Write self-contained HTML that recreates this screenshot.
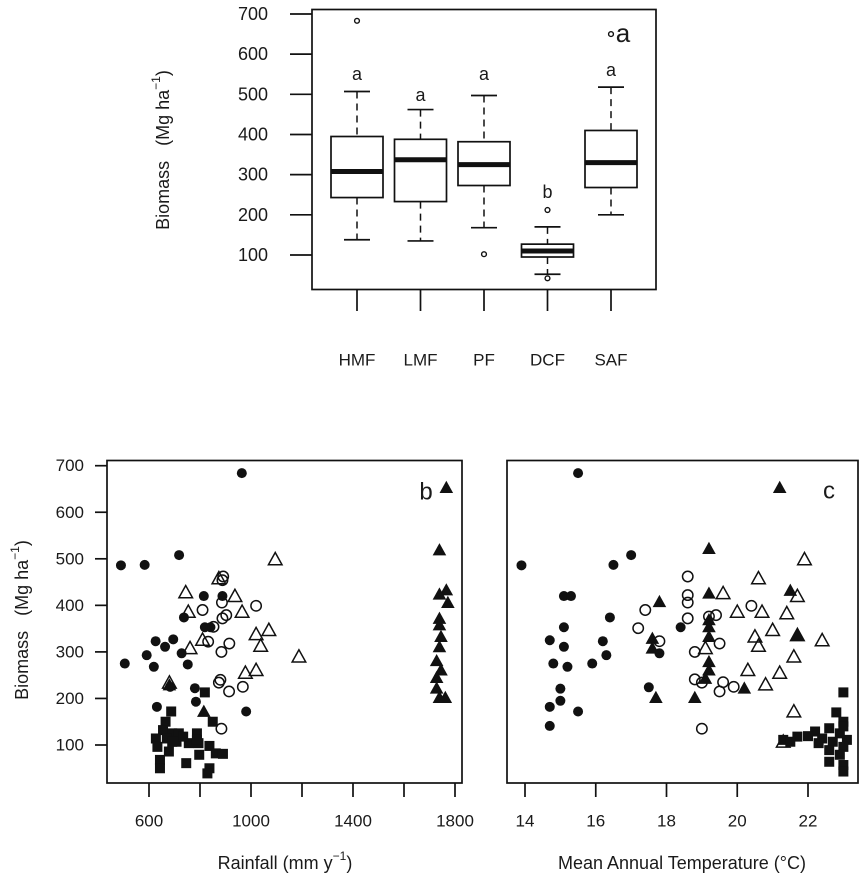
<!DOCTYPE html>
<html><head><meta charset="utf-8"><style>
html,body{margin:0;padding:0;background:#fff;}
svg{display:block;font-family:"Liberation Sans",Arial,sans-serif;}
</style></head><body>
<svg id="chart" width="866" height="883" viewBox="0 0 866 883" xmlns="http://www.w3.org/2000/svg"></svg>
<script>
// ---- Panel a (boxplot) data ----
const boxCats = ["HMF","LMF","PF","DCF","SAF"];
const boxLo  = [138,135,168,52,200];
const boxQ1  = [243,233,273,95,268];
const boxMed = [308,337,325,110,330];
const boxQ3  = [395,388,382,127,410];
const boxHi  = [507,462,497,170,518];
const boxOutCat = [0,2,3,3,4];
const boxOutVal = [683,102,212,42,650];
const boxLetters = ["a","a","a","b","a"];
const boxLetterVal = [550,498,550,257,560];
const boxYTicks = [100,200,300,400,500,600,700];

// ---- Panels b & c scatter data ----
const rainTicks = [600,1000,1400,1800];
const rainMinor = [800,1200,1600];
const tempTicks = [14,16,18,20,22];
const bioTicks = [100,200,300,400,500,600,700];

// HMF: filled circles
const hmfRain = [490,583,718,964,737,815,888,819,841,626,695,663,728,591,505,752,619,683,780,784,631,981];
const hmfRainB = [486,487,508,684,374,420,420,353,353,323,327,311,297,293,275,273,268,225,222,193,182,172];
const hmfTemp = [13.9,15.5,17.0,16.5,15.1,15.3,16.4,18.4,15.1,14.7,16.2,15.1,16.3,14.8,15.2,15.9,17.8,15.0,17.5,15.0,14.7,15.5,14.7];
const hmfTempB = [486,684,508,487,420,420,374,353,353,325,323,311,293,275,268,275,297,221,224,195,182,172,141];
// PF: open circles
const pfRain = [891,888,886,1020,810,888,903,853,832,915,884,880,874,968,914,884];
const pfRainB = [462,454,406,399,390,372,379,354,322,318,300,240,234,225,215,135];
const pfTemp = [18.6,18.6,18.6,20.4,17.4,18.6,19.2,19.4,17.2,17.8,19.5,18.8,18.8,19.0,19.6,19.9,19.5,19.0];
const pfTempB = [462,422,406,399,390,372,376,379,351,323,318,300,241,234,235,225,215,135];
// LMF: open triangles
const lmfRain = [1095,874,744,937,754,965,810,1020,1070,1038,761,1188,978,1020,680];
const lmfRainB = [499,458,428,420,386,386,326,338,347,313,308,290,255,261,234];
const lmfTemp = [21.9,20.6,19.6,21.7,20.0,20.7,21.4,21.0,20.5,21.7,22.4,20.6,19.1,21.6,20.3,21.2,20.8,21.6,21.3];
const lmfTempB = [499,458,426,420,386,386,383,347,333,336,325,313,308,290,261,255,230,172,107];
// SAF: filled triangles
const safRain = [1766,1739,1766,1739,1772,1739,1739,1745,1739,1728,1745,1728,1728,1739,1762,680,815];
const safRainB = [653,519,433,424,406,372,358,333,311,281,261,245,222,202,202,229,172];
const safTemp = [21.2,19.2,21.5,19.2,17.8,19.2,19.2,17.6,19.2,17.6,21.7,19.2,19.2,19.1,20.2,17.7,18.8];
const safTempB = [653,522,432,426,408,369,354,329,333,308,336,279,261,243,222,202,202];
// DCF: filled squares
const dcfRain = [819,687,850,665,655,691,717,788,627,670,708,756,794,633,837,678,862,890,797,643,746,643,837,829,691,734,788];
const dcfRainB = [213,172,150,150,132,125,125,125,114,114,107,104,104,96,98,86,82,81,79,68,61,50,50,39,107,118,111];
const dcfTemp = [23.0,22.8,23.0,22.6,22.2,21.3,21.7,22.0,22.4,22.7,23.1,23.0,22.6,22.9,22.6,23.0,23.0,22.9,21.5,22.3,23.0];
const dcfTempB = [213,170,150,136,129,111,118,119,114,107,111,96,89,79,64,57,43,125,107,104,140];

const NS="http://www.w3.org/2000/svg";
const svg=document.getElementById('chart');
function mk(tag,attrs,parent){const e=document.createElementNS(NS,tag);for(const k in attrs)e.setAttribute(k,attrs[k]);(parent||svg).appendChild(e);return e;}
function txt(s,x,y,size,anchor,parent,extra){const t=mk('text',Object.assign({x:x,y:y,'font-size':size,'text-anchor':anchor||'middle','dominant-baseline':'central',fill:'#1a1a1a'},extra||{}),parent);t.textContent=s;return t;}

// ===== Panel a =====
const ga=mk('g',{});


const aY=v=>255-(v-100)*0.4017;
const aX=i=>357+i*63.5;
const pa=mk('rect',{x:312,y:9.5,width:344,height:280,fill:'none',stroke:'#111','stroke-width':1.7},ga);


boxYTicks.forEach(v=>{
  const l=mk('line',{x1:290,x2:312,y1:aY(v),y2:aY(v),stroke:'#111','stroke-width':1.7},ga);
  
  
  const t=txt(String(v),268,aY(v),18,'end',ga);
  
  
});
const ta=txt('',163,150,18,'middle',ga,{transform:'rotate(-90 163 150)'});
ta.innerHTML='Biomass\u00a0\u00a0\u00a0(Mg ha<tspan font-size="12" dy="-7">\u22121</tspan><tspan dy="7">)</tspan>';


boxCats.forEach((c,i)=>{
  const x=aX(i);
  const g=mk('g',{},ga);
  
  
  mk('line',{x1:x,x2:x,y1:289,y2:311,stroke:'#111','stroke-width':1.7},g);
  mk('line',{x1:x,x2:x,y1:aY(boxHi[i]),y2:aY(boxQ3[i]),stroke:'#111','stroke-width':1.5,'stroke-dasharray':'7,5'},g);
  mk('line',{x1:x,x2:x,y1:aY(boxQ1[i]),y2:aY(boxLo[i]),stroke:'#111','stroke-width':1.5,'stroke-dasharray':'7,5'},g);
  mk('line',{x1:x-13,x2:x+13,y1:aY(boxHi[i]),y2:aY(boxHi[i]),stroke:'#111','stroke-width':1.7},g);
  mk('line',{x1:x-13,x2:x+13,y1:aY(boxLo[i]),y2:aY(boxLo[i]),stroke:'#111','stroke-width':1.7},g);
  mk('rect',{x:x-26,y:aY(boxQ3[i]),width:52,height:aY(boxQ1[i])-aY(boxQ3[i]),fill:'#fff',stroke:'#111','stroke-width':1.7},g);
  mk('line',{x1:x-26,x2:x+26,y1:aY(boxMed[i]),y2:aY(boxMed[i]),stroke:'#111','stroke-width':5},g);
  const lt=txt(boxLetters[i],x,aY(boxLetterVal[i]),18,'middle',g);
  
  
  const cl=txt(c,x,360,17,'middle',ga);
  
  
});
boxOutCat.forEach((ci,k)=>{
  const o=mk('circle',{cx:aX(ci),cy:aY(boxOutVal[k]),r:2.4,fill:'none',stroke:'#111','stroke-width':1.4},ga);
  
  
});
const bigA=txt('a',623,33,26,'middle',ga);



// ===== Panels b, c =====
const bY=v=>745-(v-100)*0.4655;
const bTop=460.5, bBot=783;
const rX=v=>149+(v-600)*(306/1200);
const tX=v=>525+(v-14)*(283/8);

function marker(g,type,x,y){
  let e;
  if(type==='fc') e=mk('circle',{cx:x,cy:y,r:5,fill:'#111'},g);
  else if(type==='oc') e=mk('circle',{cx:x,cy:y,r:5.2,fill:'none',stroke:'#111','stroke-width':1.5},g);
  else if(type==='ft'||type==='ot'){
    const s=6.8;
    const pts=`${x},${y-s} ${x-s*1.0},${y+s*0.8} ${x+s*1.0},${y+s*0.8}`;
    e=mk('polygon',type==='ft'?{points:pts,fill:'#111'}:{points:pts,fill:'none',stroke:'#111','stroke-width':1.5},g);
  } else e=mk('rect',{x:x-5,y:y-5,width:10,height:10,fill:'#111'},g);
  return e;
}
function drawSeries(g,xs,ys,xf,type,name){
  const sg=mk('g',{},g);
  
  
  xs.forEach((v,i)=>{
    const m=marker(sg,type,xf(v),bY(ys[i]));
    
    
  });
}

// Panel b
const gb=mk('g',{});


const fb=mk('rect',{x:107,y:bTop,width:355,height:bBot-bTop,fill:'none',stroke:'#111','stroke-width':1.7},gb);


bioTicks.forEach(v=>{
  const l=mk('line',{x1:95,x2:107,y1:bY(v),y2:bY(v),stroke:'#111','stroke-width':1.7},gb);
  
  
  const t=txt(String(v),84,bY(v),17,'end',gb);
  
  
});
rainTicks.concat(rainMinor).forEach(v=>{
  const l=mk('line',{x1:rX(v),x2:rX(v),y1:bBot,y2:797,stroke:'#111','stroke-width':1.7},gb);
  
  
});
rainTicks.forEach(v=>{
  const t=txt(String(v),rX(v),821,17,'middle',gb);
  
  
});
const yb=txt('',22,620,18,'middle',gb,{transform:'rotate(-90 22 620)'});
yb.innerHTML='Biomass\u00a0\u00a0\u00a0(Mg ha<tspan font-size="12" dy="-7">\u22121</tspan><tspan dy="7">)</tspan>';


const xb=txt('',285,863,18,'middle',gb);
xb.innerHTML='Rainfall (mm y<tspan font-size="12" dy="-7">\u22121</tspan><tspan dy="7">)</tspan>';


const lb=txt('b',426,492,24,'middle',gb);


drawSeries(gb,hmfRain,hmfRainB,rX,'fc','series-hmf-b');
drawSeries(gb,pfRain,pfRainB,rX,'oc','series-pf-b');
drawSeries(gb,lmfRain,lmfRainB,rX,'ot','series-lmf-b');
drawSeries(gb,safRain,safRainB,rX,'ft','series-saf-b');
drawSeries(gb,dcfRain,dcfRainB,rX,'sq','series-dcf-b');

// Panel c
const gc=mk('g',{});


const fc=mk('rect',{x:507,y:bTop,width:351,height:bBot-bTop,fill:'none',stroke:'#111','stroke-width':1.7},gc);


tempTicks.forEach(v=>{
  const l=mk('line',{x1:tX(v),x2:tX(v),y1:bBot,y2:797,stroke:'#111','stroke-width':1.7},gc);
  
  
  const t=txt(String(v),tX(v),821,17,'middle',gc);
  
  
});
const xc=txt('Mean Annual Temperature (°C)',682,863,18,'middle',gc);


const lc=txt('c',829,491,24,'middle',gc);


drawSeries(gc,hmfTemp,hmfTempB,tX,'fc','series-hmf-c');
drawSeries(gc,pfTemp,pfTempB,tX,'oc','series-pf-c');
drawSeries(gc,lmfTemp,lmfTempB,tX,'ot','series-lmf-c');
drawSeries(gc,safTemp,safTempB,tX,'ft','series-saf-c');
drawSeries(gc,dcfTemp,dcfTempB,tX,'sq','series-dcf-c');
</script>
</body></html>
